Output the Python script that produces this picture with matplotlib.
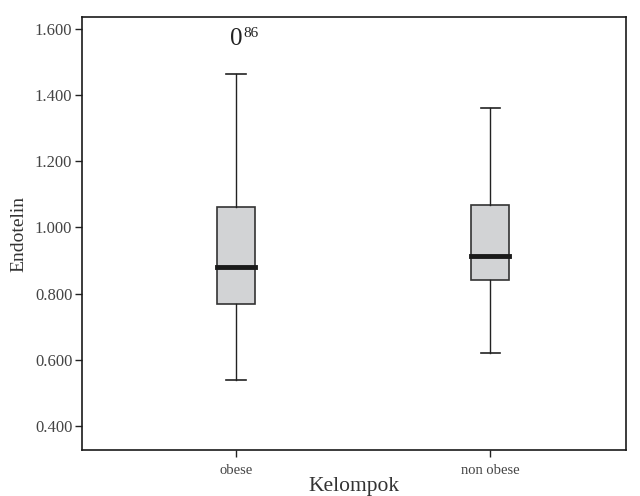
import matplotlib
matplotlib.use("Agg")
import matplotlib.pyplot as plt

groups = ["obese", "non obese"]
whislo = [0.538, 0.620]
q1 = [0.767, 0.840]
med = [0.879, 0.912]
q3 = [1.063, 1.068]
whishi = [1.465, 1.362]
outlier_vals = [[1.570], []]
outlier_ids = [["86"], []]
yticks = [0.4, 0.6, 0.8, 1.0, 1.2, 1.4, 1.6]

plt.rcParams['font.family'] = ['Liberation Serif', 'DejaVu Serif']

fig = plt.figure(figsize=(6.4, 4.96), dpi=100)
ax = fig.add_axes([82/640, 1-450/496, (626-82)/640, (450-17)/496])

stats = []
for i, g in enumerate(groups):
    stats.append(dict(label=g, whislo=whislo[i], q1=q1[i], med=med[i], q3=q3[i],
                      whishi=whishi[i], fliers=[]))
pos = [1, 2]
ax.bxp(stats, positions=pos, widths=0.15, capwidths=0.075, patch_artist=True,
       showfliers=False,
       boxprops=dict(facecolor='#d2d3d5', edgecolor='#333333', linewidth=1.2),
       medianprops=dict(color='#1a1a1a', linewidth=3.5, solid_capstyle='projecting'),
       whiskerprops=dict(color='#222222', linewidth=1.0),
       capprops=dict(color='#222222', linewidth=1.2))

for i, (vals, ids) in enumerate(zip(outlier_vals, outlier_ids)):
    for v, lab in zip(vals, ids):
        ax.text(pos[i], v, "0", ha='center', va='center', fontsize=18, color='#222222')
        ax.text(pos[i] + 0.028, v + 0.015, lab, ha='left', va='center', fontsize=11, color='#222222')

ax.set_xlim(0.394, 2.535)
ax.set_ylim(0.327, 1.636)
ax.set_yticks(yticks)
ax.set_yticklabels([f"{t:.3f}" for t in yticks], fontsize=12, color='#444444')
ax.set_xticks(pos)
ax.set_xticklabels(groups, fontsize=10.5, color='#444444')
ax.tick_params(axis='both', direction='out', length=5, width=1, colors='#222222', labelcolor='#444444')
ax.tick_params(axis='y', pad=2)
ax.tick_params(axis='x', pad=5)
ax.set_ylabel("Endotelin", fontsize=14, color='#333333', labelpad=5)
ax.set_xlabel("Kelompok", fontsize=15.5, color='#333333', labelpad=0)
for s in ax.spines.values():
    s.set_linewidth(1.2)
    s.set_color('#1a1a1a')

fig.savefig("out.png", dpi=100)
